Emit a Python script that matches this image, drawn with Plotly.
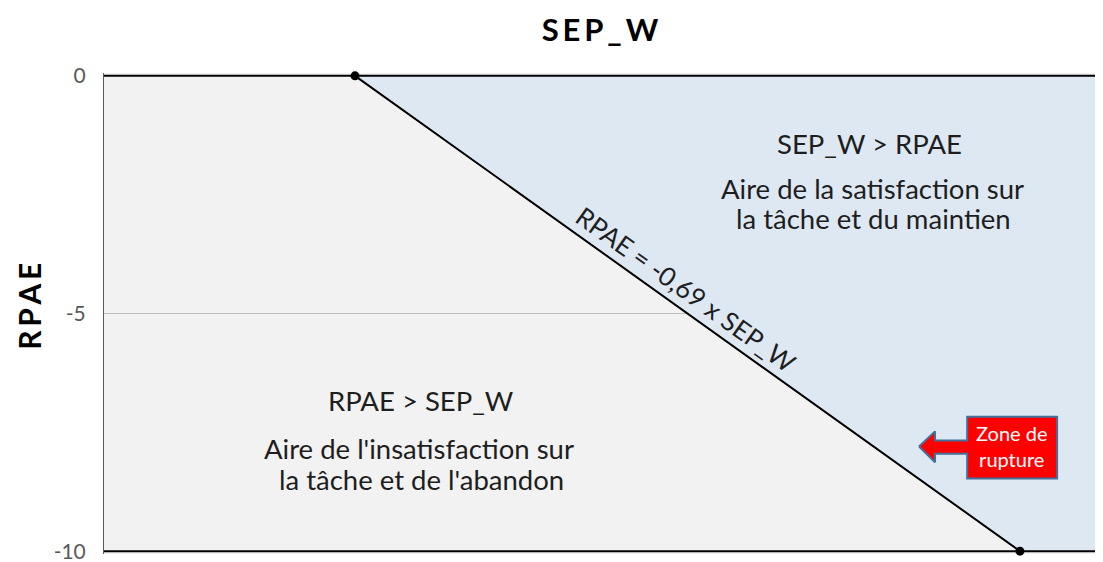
import plotly.graph_objects as go

# line RPAE = -0.69 x SEP_W, end points
sep_w = [0, 14.49]
rpae = [0, -10]
y_ticks = [0, -5, -10]
y_tick_text = ["0", "-5", "-10"]
x_range = [-5.47, 16.3]
y_range = [-10.06, 0.06]

# red block arrow "Zone de rupture" (data units)
arrow_x = [12.29, 12.64, 12.64, 13.34, 13.34, 15.30, 15.30, 13.34, 13.34, 12.64, 12.64, 12.29]
arrow_y = [-7.80, -7.48, -7.67, -7.67, -7.17, -7.17, -8.47, -8.47, -7.95, -7.95, -8.13, -7.80]

font = "Lato, 'Open Sans', sans-serif"
txt = "#1e1e1e"
ts = "\u2009"  # thin space, for the letter-spaced bold titles

fig = go.Figure()

# blue area above the line
fig.add_trace(go.Scatter(
    x=[sep_w[0], x_range[1], x_range[1], sep_w[1]],
    y=[rpae[0], rpae[0], rpae[1], rpae[1]],
    fill="toself", fillcolor="#dee8f2", mode="none", hoverinfo="skip"))

# horizontal border lines at 0 and -10
for yv in [0, -10]:
    fig.add_trace(go.Scatter(x=x_range, y=[yv, yv], mode="lines",
                             line=dict(color="black", width=2), hoverinfo="skip"))

fig.add_trace(go.Scatter(x=sep_w, y=rpae, mode="lines+markers",
                         line=dict(color="black", width=2),
                         marker=dict(color="black", size=9), cliponaxis=False))

fig.add_trace(go.Scatter(x=arrow_x, y=arrow_y, fill="toself", fillcolor="#ff0000",
                         mode="lines", line=dict(color="#41719c", width=2),
                         hoverinfo="skip"))

labels = [
    (11.22, -1.42, "SEP_W > RPAE"),
    (11.28, -2.37, "Aire de la satisfaction sur"),
    (11.30, -3.00, "la tâche et du maintien"),
    (1.44, -6.84, "RPAE > SEP_W"),
    (1.39, -7.84, "Aire de l'insatisfaction sur"),
    (1.44, -8.50, "la tâche et de l'abandon"),
]
for x, y, t in labels:
    fig.add_annotation(x=x, y=y, text=t, showarrow=False,
                       font=dict(size=27.5, color=txt, family=font))

fig.add_annotation(x=7.21, y=-4.48, text="RPAE = -0,69 x SEP_W", textangle=35.6,
                   showarrow=False, font=dict(size=26, color=txt, family=font))
fig.add_annotation(x=14.32, y=-7.78, text="Zone de<br>rupture", showarrow=False,
                   font=dict(size=20, color="white", family=font), align="center")
fig.add_annotation(x=-0.075, y=0.514, xref="paper", yref="paper",
                   xanchor="center", yanchor="middle", borderpad=0,
                   text="<b>" + ts.join("RPAE") + "</b>",
                   textangle=-90, showarrow=False,
                   font=dict(size=30, color="black", family=font))

fig.update_layout(
    width=1095, height=554,
    margin=dict(l=96, r=0, t=65, b=5),
    paper_bgcolor="white", plot_bgcolor="#f2f2f2",
    showlegend=False,
    title=dict(text="<b>" + ts.join("SEP_W") + "</b>", x=0.5406, xanchor="center",
               y=1 - 22 / 554, yanchor="middle",
               font=dict(size=31, color="black", family=font)),
    xaxis=dict(range=x_range, showticklabels=False, showgrid=False, zeroline=False,
               ticks=""),
    yaxis=dict(range=y_range, tickvals=y_ticks, ticktext=y_tick_text,
               showgrid=True, gridcolor="#bfbfbf", gridwidth=1, zeroline=False,
               showline=True, linecolor="#595959", linewidth=1, ticks="",
               ticklabelstandoff=13, ticklabeloverflow="allow",
               tickfont=dict(size=21, color="#595959", family=font)),
)

fig.write_html("out.html")
